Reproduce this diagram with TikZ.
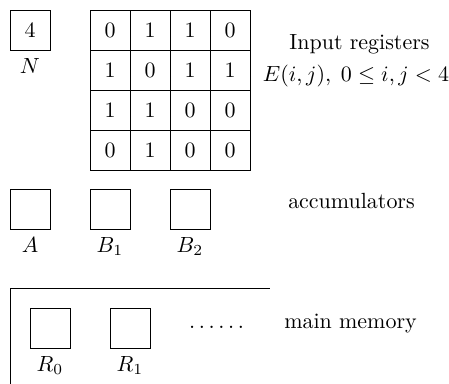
\documentclass[tikz,border=0pt]{standalone}
\usepackage{amsmath}
\begin{document}
\begin{tikzpicture}[x=0.16cm, y=-0.16cm,
  reg/.style={draw, rectangle, minimum size=0.64cm, inner sep=0pt},
  lab/.style={anchor=base}]
\useasboundingbox (0,0) rectangle (44.9,38.4);

% N and the input registers E(i,j)
\node[reg, label=below:$N$] (n) at (3,3) {4};
\foreach \row [count=\i] in {{0,1,1,0},{1,0,1,1},{1,1,0,0},{0,1,0,0}}
  \foreach \v [count=\j] in \row
    \node[reg] (e\i\j) at (7+4*\j, -1+4*\i) {\v};
\node[lab] (inreg) at (35.95,4.93) {Input registers};
\node[lab] (erange) at (35.6,8.2) {$E(i,j),\;0\le i,j<4$};

% accumulators
\node[reg, label=below:$A$] (a) at (3,20.9) {};
\node[reg, label=below:$B_1$] (b1) at (11,20.9) {};
\node[reg, label=below:$B_2$] (b2) at (19,20.9) {};
\node[lab] (acc) at (35.15,20.9) {accumulators};

% main memory
\draw (27,28.8) -| (1,38.4);
\node[reg, label=below:$R_0$] (r0) at (5,32.8) {};
\node[reg, label=below:$R_1$] (r1) at (13,32.8) {};
\node[lab] (dots) at (21.65,32.9) {$\ldots\ldots$};
\node[lab] (mem) at (35.05,32.9) {main memory};
\end{tikzpicture}
\end{document}
